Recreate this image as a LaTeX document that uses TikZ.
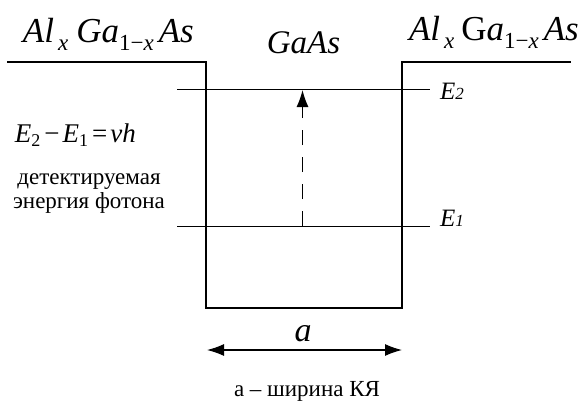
\documentclass[tikz,border=0pt]{standalone}
\usepackage{fontspec}
\setmainfont{Liberation Serif}
\usetikzlibrary{arrows.meta}
\newcommand{\fs}[1]{\fontsize{#1}{#1}\selectfont}
\newcommand{\sub}[2]{\raisebox{-#1pt}{#2}}
\begin{document}
\begin{tikzpicture}[x=1pt,y=-1pt,
  wall/.style={line width=2pt, line join=miter, line cap=rect},
  level/.style={line width=1pt},
  lbl/.style={inner sep=0pt, outer sep=0pt},
  photon/.style={line width=1.2pt, dash pattern=on 15pt off 12pt, -{Latex[length=17pt,width=12pt]}},
  widtharrow/.style={line width=1.2pt, {Latex[length=17pt,width=12pt]}-{Latex[length=17pt,width=12pt]}}]
\useasboundingbox (0,0) rectangle (587,400);
% well
\coordinate (L0) at (8,61.5);
\coordinate (LW) at (206,61.5);
\coordinate (LB) at (206,307.5);
\coordinate (RB) at (402,307.5);
\coordinate (RW) at (402,61.5);
\coordinate (R0) at (570,61.5);
\draw[wall] (L0) -- (LW) -- (LB) -- (RB) -- (RW) -- (R0);
% levels
\coordinate (E2a) at (177,89);
\coordinate (E2b) at (430,89);
\coordinate (E1a) at (177,226);
\coordinate (E1b) at (430,226);
\draw[level] (E2a) -- (E2b);
\draw[level] (E1a) -- (E1b);
% photon arrow
\coordinate (P1) at (302.5,226);
\coordinate (P2) at (302.5,90);
\draw[photon] (P1) -- (P2);
% width arrow
\coordinate (W1) at (207,350);
\coordinate (W2) at (402,350);
\draw[widtharrow] (W1) -- (W2);
% labels
\node[lbl, anchor=base west] (lAl) at (23,42) {\fs{35}\itshape Al\hspace{4pt}\sub{8}{\fs{23}x}\hspace{8pt}Ga\sub{8}{\fs{23}\upshape 1−\itshape x}\hspace{5pt}As};
\node[lbl, anchor=base west] (rAl) at (409,40) {\fs{35}\itshape Al\hspace{4pt}\sub{8}{\fs{23}x}\hspace{7pt}{\upshape G}a\sub{8}{\fs{23}\upshape 1−\itshape x}\hspace{5pt}As};
\node[lbl, anchor=base] (gaas) at (303.5,53) {\fs{33}\itshape GaAs};
\node[lbl, anchor=base west] (e2) at (440,99) {\fs{25}\itshape E\fs{17}2};
\node[lbl, anchor=base west] (e1) at (440,226) {\fs{25}\itshape E\fs{17}1};
\node[lbl, anchor=base west] (form) at (15,142) {\fs{27}\itshape E\sub{4}{\fs{18}\upshape 2}\hspace{4pt}\upshape−\hspace{3pt}\itshape E\sub{4}{\fs{18}\upshape 1}\hspace{4pt}\upshape=\hspace{3pt}\itshape vh};
\node[lbl, anchor=base] (t1) at (89,184) {\fs{23}детектируемая};
\node[lbl, anchor=base] (t2) at (89,208) {\fs{23}энергия фотона};
\node[lbl, anchor=base] (a) at (303,341) {\fs{34}\itshape a};
\node[lbl, anchor=base] (cap) at (307,396) {\fs{23}а – ширина КЯ};
\end{tikzpicture}
\end{document}
